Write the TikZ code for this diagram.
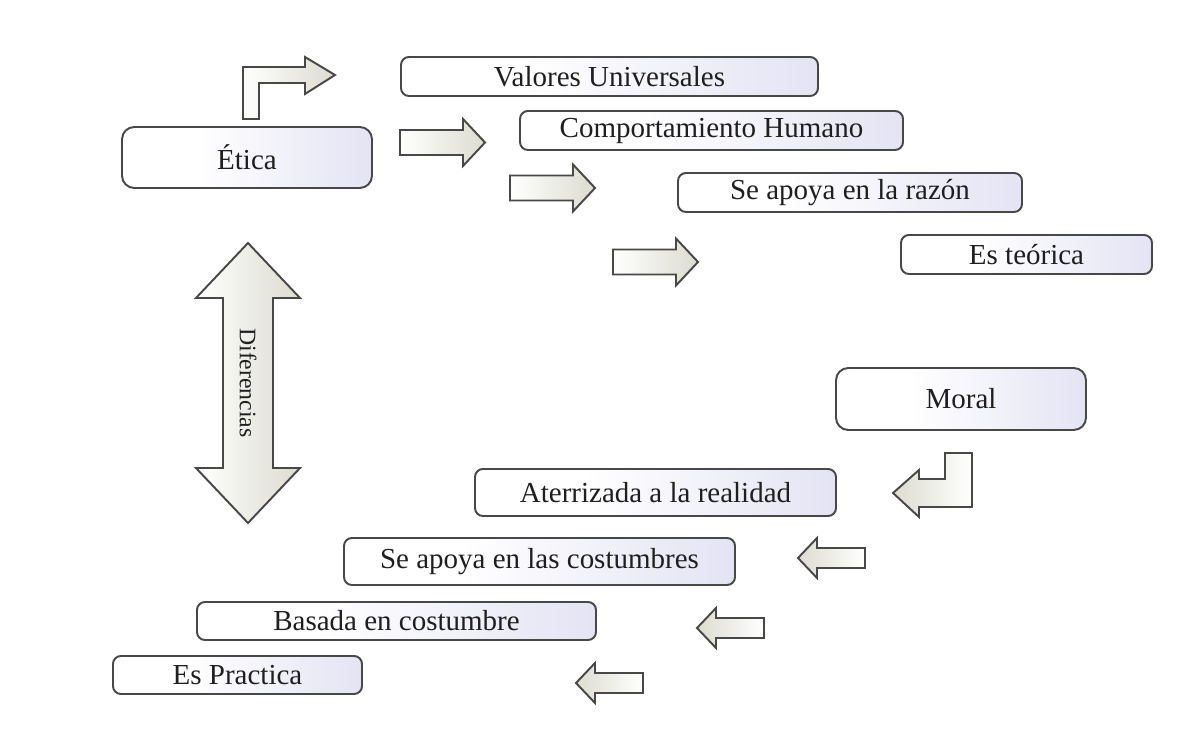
\documentclass[tikz,border=0pt]{standalone}
\usepackage{fontspec}
\setmainfont{Liberation Serif}
\definecolor{boxshade}{RGB}{208,208,236}
\pgfdeclarehorizontalshading{conceptshade}{100bp}{color(0bp)=(white); color(40bp)=(white); color(100bp)=(boxshade)}
\begin{document}
\begin{tikzpicture}[x=0.02cm,y=-0.02cm,line join=miter]
  % Local definitions
  \def\px{0.02cm}

  % Colors
  \definecolor{boxline}{RGB}{72,72,72}
  \definecolor{arrowshade}{RGB}{220,220,208}
  \colorlet{textcolor}{black!88}

  % Styles
  \tikzstyle{concept}=[draw=boxline,line width=1.1pt,rounded corners=4.5pt,
    shading=conceptshade,text=textcolor,inner sep=0pt,
    font=\fontsize{16.5}{19}\selectfont]
  \tikzstyle{main concept}=[concept,rounded corners=7pt]
  \tikzstyle{block arrow}=[draw=boxline,line width=1.1pt]
  \tikzstyle{right block}=[block arrow,left color=white,right color=arrowshade]
  \tikzstyle{left block}=[block arrow,left color=arrowshade,right color=white]

  % The graphic
  \useasboundingbox[fill=white] (0,0) rectangle (1181,739);

  % Etica side
  \node[main concept,minimum width=250*\px,minimum height=61*\px] (etica) at (247,157.5) {Ética};
  \foreach \name/\x/\y/\w/\txt in {valores/609.5/76.5/417/Valores Universales,
      comportamiento/711.5/130.5/383/Comportamiento Humano,
      razon/850/192.5/344/Se apoya en la razón,
      teorica/1026.5/254.5/251/Es teórica}
    \node[concept,minimum width=\w*\px,minimum height=39*\px] (\name) at (\x,\y) {\txt};

  % Moral side
  \node[main concept,minimum width=250*\px,minimum height=62*\px] (moral) at (961,399) {Moral};
  \foreach \name/\x/\y/\w/\h/\txt in {aterrizada/655.5/492.5/361/47/Aterrizada a la realidad,
      costumbres/539.5/561.5/391/47/Se apoya en las costumbres,
      basada/396.5/621/399/38/Basada en costumbre,
      practica/237.5/675/249/38/Es Practica}
    \node[concept,minimum width=\w*\px,minimum height=\h*\px] (\name) at (\x,\y) {\txt};

  % Bent arrows
  \draw[right block] (243,119) -- (243,67) -- (305,67) -- (305,57) -- (335,75)
    -- (305,94) -- (305,83) -- (259,83) -- (259,119) -- cycle;
  \draw[left block] (945,453) -- (972,453) -- (972,507) -- (919,507) -- (919,517)
    -- (893,493) -- (919,470) -- (919,479) -- (945,479) -- cycle;

  % Straight arrows
  \foreach \x/\y in {400/142.5, 510/188, 613/262}
    \draw[right block] (\x,\y-12.5) -- ++(63,0) -- ++(0,-11) -- ++(22,23.5)
      -- ++(-22,23.5) -- ++(0,-11) -- ++(-63,0) -- cycle;
  \foreach \x/\y in {798/558, 697/628, 576/683}
    \draw[left block] (\x,\y) -- ++(19,-20) -- ++(0,10) -- ++(48,0) -- ++(0,20)
      -- ++(-48,0) -- ++(0,10) -- cycle;

  % Differences
  \draw[right block] (248,243) -- (300,298) -- (273,298) -- (273,468) -- (300,468)
    -- (248,523) -- (196,468) -- (223,468) -- (223,298) -- (196,298) -- cycle;
  \node[rotate=-90,text=textcolor,font=\fontsize{13.5}{16}\selectfont] (diferencias) at (248,383) {Diferencias};
\end{tikzpicture}
\end{document}
